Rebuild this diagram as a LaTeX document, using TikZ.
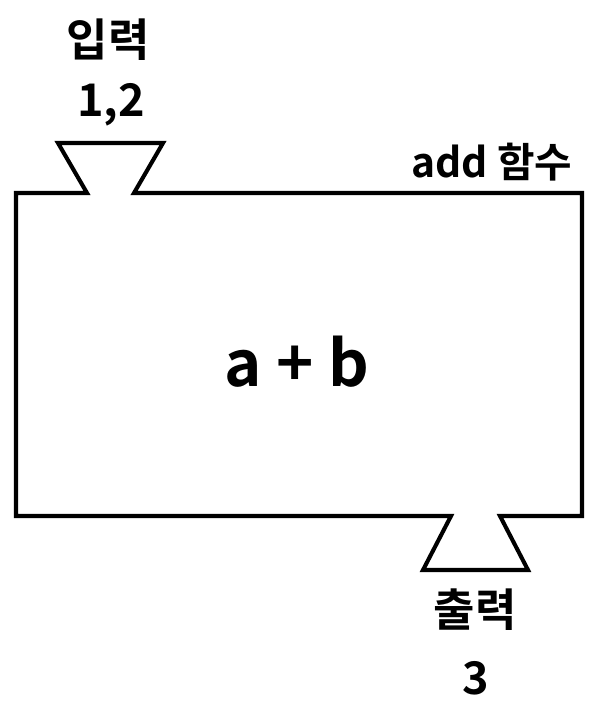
\documentclass[tikz,border=0pt]{standalone}
\usepackage{fontspec}
\setmainfont{Noto Sans CJK KR}[UprightFont=* Bold]
\usetikzlibrary{positioning}
\tikzset{
  every picture/.style={line width=2.9pt, line join=miter},
  iotext/.style={font=\fontsize{32}{34}\selectfont, inner sep=0pt},
  fntext/.style={font=\fontsize{29}{31}\selectfont, inner sep=0pt},
  bodytext/.style={font=\fontsize{45}{47}\selectfont, inner sep=0pt},
}

\begin{document}
\begin{tikzpicture}[x=0.025cm, y=-0.025cm]
  \useasboundingbox (0,0) rectangle (599,704);
  % machine body with input funnel on top and output funnel below
  \draw (16,193) -- (87,193) -- (58,143) -- (163,143) -- (134,193)
     -- (582,193) -- (582,516) -- (500,516) -- (528,570) -- (423,570)
     -- (451,516) -- (16,516) -- cycle;
  \node[iotext] (in) at (108,40) {입력};
  \node[iotext] (inval) at (111,105) {1,2};
  \node[fntext] (fn) at (492,162) {add 함수};
  \node[bodytext] (expr) at (297,362) {a + b};
  \node[iotext] (out) at (475,610) {출력};
  \node[iotext] (outval) at (476,678) {3};
\end{tikzpicture}
\end{document}
